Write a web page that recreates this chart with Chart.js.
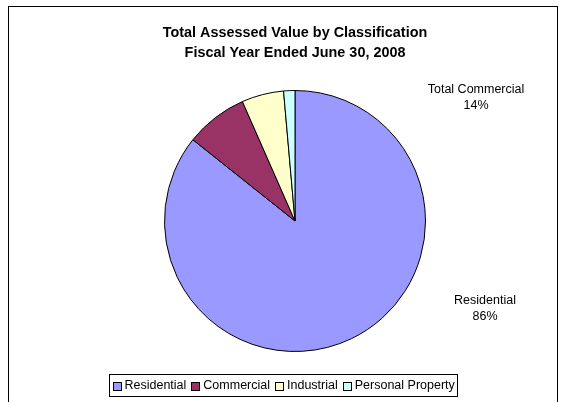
<!DOCTYPE html>
<html>
<head>
<meta charset="utf-8">
<script src="https://cdn.jsdelivr.net/npm/chart.js@4.4.0/dist/chart.umd.min.js"></script>
<style>
  html, body { margin: 0; padding: 0; background: #fff; }
  #wrap { width: 570px; height: 402px; }
</style>
</head>
<body>
<div id="wrap"><canvas id="chart" width="570" height="402"></canvas></div>
<script>
const categories = ['Residential', 'Commercial', 'Industrial', 'Personal Property'];
const values = [85.7, 7.7, 5.2, 1.4];
const colors = ['#9999FF', '#993366', '#FFFFCC', '#CCFFFF'];
const titleLines = ['Total Assessed Value by Classification', 'Fiscal Year Ended June 30, 2008'];

const FONT = 'Arial, "Liberation Sans", sans-serif';

// frame around the whole chart
const framePlugin = {
  id: 'frame',
  beforeDraw(chart) {
    const ctx = chart.ctx;
    ctx.save();
    ctx.fillStyle = '#fff';
    ctx.fillRect(0, 0, chart.width, chart.height);
    ctx.strokeStyle = '#000';
    ctx.lineWidth = 1;
    ctx.strokeRect(8.5, 6.5, 549, 420);
    ctx.restore();
  }
};

// "Total Commercial" and "Residential" labels
const sliceLabels = {
  id: 'sliceLabels',
  afterDraw(chart) {
    const ctx = chart.ctx;
    const total = values.reduce((a, b) => a + b, 0);
    const commercialTotal = values.slice(1).reduce((a, b) => a + b, 0);
    const items = [
      { lines: ['Total Commercial', Math.round(commercialTotal / total * 100) + '%'], x: 476, y: 90 },
      { lines: [categories[0], Math.round(values[0] / total * 100) + '%'], x: 485, y: 301 }
    ];
    ctx.save();
    ctx.font = '12.5px ' + FONT;
    ctx.fillStyle = '#000';
    ctx.textAlign = 'center';
    ctx.textBaseline = 'middle';
    items.forEach(it => {
      it.lines.forEach((l, i) => ctx.fillText(l, it.x, it.y + i * 15.5));
    });
    ctx.restore();
  }
};

// boxed legend under the pie
const boxLegend = {
  id: 'boxLegend',
  afterDraw(chart) {
    const ctx = chart.ctx;
    ctx.save();
    ctx.font = '12.5px ' + FONT;
    const sq = 8, gapText = 4, gapItem = 5, padL = 3, padR = 3;
    const widths = categories.map(c => ctx.measureText(c).width);
    let w = padL + padR;
    widths.forEach((tw, i) => { w += sq + gapText + tw + (i < widths.length - 1 ? gapItem : 0); });
    const cx = 283, top = 374, h = 22;
    const left = Math.round(cx - w / 2) + 0.5;
    ctx.strokeStyle = '#000';
    ctx.lineWidth = 1;
    ctx.strokeRect(left, top + 0.5, Math.round(w), h);
    let x = left + padL;
    const my = top + h / 2 + 0.5;
    ctx.textBaseline = 'middle';
    ctx.textAlign = 'left';
    categories.forEach((c, i) => {
      ctx.fillStyle = colors[i];
      ctx.fillRect(Math.round(x) + 0.5, Math.round(my - sq / 2) + 0.5, sq, sq);
      ctx.strokeRect(Math.round(x) + 0.5, Math.round(my - sq / 2) + 0.5, sq, sq);
      x += sq + gapText;
      ctx.fillStyle = '#000';
      ctx.fillText(c, x, my);
      x += widths[i] + gapItem;
    });
    ctx.restore();
  }
};

new Chart(document.getElementById('chart'), {
  type: 'pie',
  data: {
    labels: categories,
    datasets: [{
      data: values,
      backgroundColor: colors,
      borderColor: '#000',
      borderWidth: 1
    }]
  },
  options: {
    responsive: false,
    animation: false,
    layout: { padding: { left: 20, right: 0, top: 0, bottom: 50 } },
    plugins: {
      legend: { display: false },
      tooltip: { enabled: false },
      title: {
        display: true,
        text: titleLines,
        color: '#000',
        font: { family: FONT, size: 14.4, weight: 'bold', lineHeight: '20px' },
        padding: { top: 23, bottom: 27 }
      }
    }
  },
  plugins: [framePlugin, sliceLabels, boxLegend]
});
</script>
</body>
</html>
